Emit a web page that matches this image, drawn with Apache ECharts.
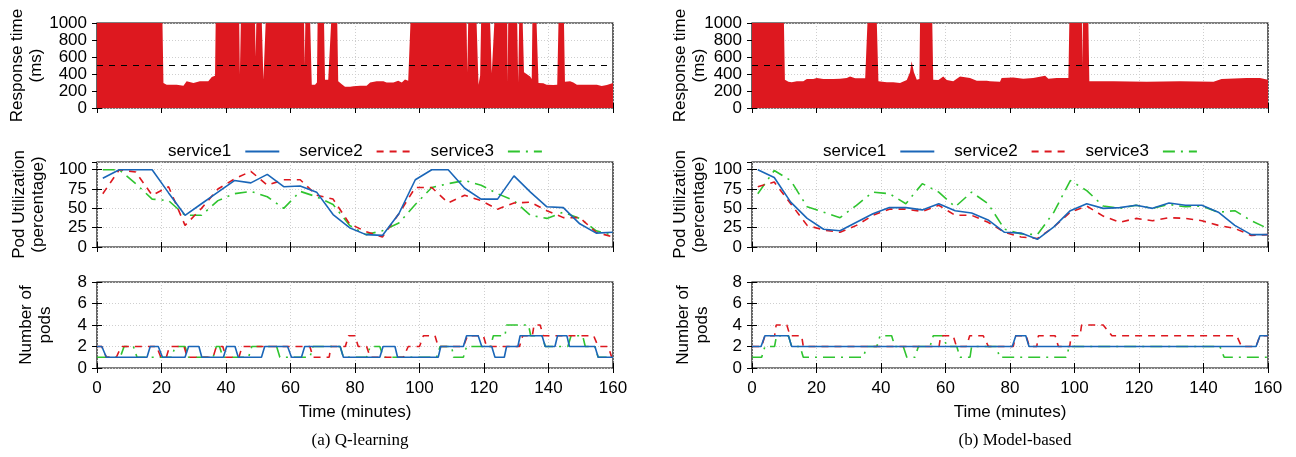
<!DOCTYPE html>
<html><head><meta charset="utf-8">
<script src="https://cdn.jsdelivr.net/npm/echarts@6/dist/echarts.min.js"></script>
<style>html,body{margin:0;padding:0;background:#fff}#c{width:1296px;height:457px}</style>
</head><body><div id="c"></div>
<script>
// ---------------- DATA ----------------
const xTickValues = [0,20,40,60,80,100,120,140,160];
const seriesNames = ['service1','service2','service3'];
const captions = ['(a) Q-learning','(b) Model-based'];
const slaThreshold = 500;

// response time [minute, ms] (values >= 1000 are off-scale spikes)
const respQ = [[0,1000],[20.3,1000],[20.6,294],[21.6,275],[22.6,275],[24.7,275],[26.8,263],[27.8,314],[29.9,294],[31.9,314],[34.5,314],[35.6,365],[36.6,380],[36.8,1000],[44.1,1000],[44.3,400],[44.6,1000],[49,1000],[49.2,600],[49.4,1000],[51.1,1000],[51.6,333],[52.1,333],[52.3,1000],[64.2,1000],[64.4,500],[64.6,1000],[66.1,1000],[66.6,275],[67.6,275],[68.2,300],[68.4,1000],[70.4,1000],[70.7,333],[71.7,333],[72.2,340],[72.6,1000],[74.5,1000],[74.8,314],[75.9,280],[76.9,250],[78.5,250],[79.5,255],[81.6,263],[83.6,263],[84.7,300],[86.7,314],[88.8,314],[89.8,300],[91.9,300],[93.4,320],[94.5,300],[95.5,335],[96.5,320],[97.2,1000],[114.6,1000],[114.8,420],[115.1,1000],[117.7,1000],[118.3,275],[118.8,380],[119.1,1000],[121.9,1000],[122.4,410],[122.9,430],[123.2,1000],[127.2,1000],[127.35,300],[127.5,1000],[130.3,1000],[130.6,300],[130.9,1000],[132,1000],[132.4,420],[133.2,400],[134.3,370],[134.8,340],[135,1000],[136.3,1000],[136.9,294],[138.4,290],[139.4,275],[141.5,270],[142.7,275],[143.1,1000],[144.8,1000],[145.1,310],[146.7,314],[147.7,300],[148.8,275],[151.9,275],[155,275],[156.5,260],[158.1,270],[160,294]];
const respM = [[0,1000],[9.9,1000],[10.2,333],[11.3,310],[12.3,302],[13.9,314],[15.9,314],[17,341],[19,341],[20.1,353],[22.1,341],[25.2,341],[27.3,345],[29.4,353],[30.4,372],[32,349],[35.1,349],[35.4,372],[35.8,1000],[38.7,1000],[39.2,314],[41.8,302],[43.8,302],[45.9,294],[48,330],[49,420],[49.5,549],[50.2,420],[51.1,333],[51.9,340],[52.1,1000],[55.9,1000],[56.2,333],[57.8,330],[59.3,372],[60.4,330],[62.4,314],[64.5,372],[67.6,353],[69.7,322],[72.8,322],[73.8,314],[76.9,310],[77.4,353],[81,360],[84.1,345],[87.2,353],[90.9,380],[91.9,345],[94.5,353],[98.1,353],[98.4,1000],[102.3,1000],[102.45,500],[102.6,1000],[104.3,1000],[104.6,314],[112,314],[122.4,310],[132.7,314],[143.1,310],[145.6,341],[153.4,353],[157.5,353],[160,333]];

// pod utilization (%), sampled at these minutes
const utilTimes = [1.8,6.9,12,17.1,22.2,27.3,32.4,37.5,42.6,47.7,52.8,57.9,63,68.1,73.2,78.3,83.4,88.5,93.6,98.7,103.8,108.9,114,119.1,124.2,129.3,134.4,139.5,144.6,149.7,154.8,159.9];
const utilQ1 = [89,100,100,100,70,41,56,71,86,83,94,78,79,71,42,25,16,15,43,87,100,100,76,62,62,92,71,52,51,30,18,19];
const utilQ2 = [69,100,97,67,78,28,50,75,88,98,80,87,87,67,62,30,20,13,43,77,77,57,67,60,49,57,58,47,38,38,19,13];
const utilQ3 = [100,100,82,62,60,41,41,60,69,72,65,50,72,65,55,28,16,21,31,55,77,82,86,80,69,60,41,37,45,37,21,15];
const utilM1 = [100,90,58,37,23,21,32,43,51,51,48,56,47,44,35,19,18,10,26,47,56,50,51,54,50,57,54,54,45,28,16,16];
const utilM2 = [78,84,56,28,22,19,28,41,49,49,46,54,41,41,32,19,13,11,26,45,53,40,32,37,34,38,37,34,28,24,15,16];
const utilM3 = [69,99,86,52,45,38,54,71,69,56,82,71,52,71,56,23,17,16,45,86,73,53,50,54,50,55,52,53,45,47,34,24];

// number of pods [minute, pods]
const podsQ1 = [[0,2],[1.5,2],[2.9,1],[15.5,1],[16.5,2],[19,2],[20.3,1],[27.3,1],[28.4,2],[31.6,2],[32.5,1],[39.2,1],[40.2,2],[42.8,2],[43.8,1],[51,1],[52,2],[59.1,2],[60.3,1],[63.4,1],[64.4,2],[75.4,2],[76.4,1],[87.7,1],[88.7,2],[92.4,2],[93.2,1],[105.8,1],[106.6,2],[113.6,2],[114.6,3],[118.2,3],[119.3,2],[122.4,2],[123.4,1],[126.3,1],[127,2],[130.5,2],[131.2,3],[138,3],[139,2],[142,2],[142.8,3],[145.7,3],[146.5,2],[154.4,2],[155.4,1],[159.1,1],[160,1]];
const podsQ2 = [[0,2],[1.5,2],[2.9,1],[6,1],[7.5,2],[18.5,2],[19.8,1],[21.5,1],[22.5,2],[27,2],[28,1],[36,1],[37,2],[39,2],[40,1],[44,1],[45,2],[66,2],[67,1],[72,1],[72.5,2],[77,2],[78,3],[80,3],[81,2],[83.6,2],[84.7,1],[95,1],[96.5,2],[100,2],[101.2,3],[104.8,3],[105.8,2],[113.6,2],[114.9,3],[119.8,3],[120.8,2],[131,2],[132,3],[135,3],[135.5,4],[137.4,4],[138.4,3],[154,3],[155.4,2],[158.5,2],[159.6,1],[160,1]];
const podsQ3 = [[0,1],[7.2,1],[8.4,2],[11.3,2],[12.4,1],[23.2,1],[24.2,2],[27.3,2],[28.4,1],[36,1],[37,2],[38,2],[39,1],[47,1],[48,2],[55.7,2],[56.7,1],[66,1],[67,2],[75.4,2],[76.4,1],[83.6,1],[84.7,2],[87.7,2],[88.8,1],[105.3,1],[106.4,2],[110,2],[110.5,1],[113.6,1],[114.6,2],[122,2],[122.9,3],[126.5,3],[127,4],[133.8,4],[134.5,3],[138,3],[139,2],[146,2],[147,3],[150.6,3],[151.4,2],[154.4,2],[155.4,1],[160,1]];
const podsM1 = [[0,2],[2.8,2],[4,3],[11.3,3],[12.3,2],[80.7,2],[81.8,3],[84.9,3],[85.9,2],[156.3,2],[157.5,3],[160,3]];
const podsM2 = [[0,2],[3,2],[4,3],[7,3],[7.5,4],[10.8,4],[11.8,3],[15.4,3],[15.9,2],[58,2],[58.5,3],[62.4,3],[63.4,2],[66.5,2],[67.5,3],[71.7,3],[73.3,2],[81,2],[81.8,3],[85,3],[86,2],[88.3,2],[88.8,3],[94,3],[95,2],[98.5,2],[99,3],[101.7,3],[102.2,4],[108.9,4],[111.6,3],[150.3,3],[151.8,2],[156.3,2],[157.5,3],[160,3]];
const podsM3 = [[0,1],[3,1],[4,2],[7,2],[7.6,3],[11.3,3],[12.3,2],[14.9,2],[15.9,1],[34.5,1],[35.6,2],[38.7,2],[39.7,3],[43.3,3],[44.3,2],[46.9,2],[48,1],[50.5,1],[51.6,2],[55.2,2],[56.2,3],[59.3,3],[60.4,2],[63.5,2],[64.5,1],[67.6,1],[68.1,2],[75.9,2],[76.7,1],[97.4,1],[98.4,2],[145.1,2],[146.4,1],[160,1]];

// ---------------- CHART ----------------
const FONT = 'Liberation Sans';
const colors = ['#1a66b8','#dd181f','#2fc42f'];
const dashes = ['solid',[7,6],[12,6,2,6]];
const cols = [{left:97,width:516,gaps:[51,49,42]},{left:752,width:516,gaps:[43,43,40]}];
const rows = [
  {top:23,height:85,min:0,max:1000,interval:200,name:'Response time\n(ms)'},
  {top:162,height:85,min:0,max:110,interval:25,name:'Pod Utilization\n(percentage)'},
  {top:282,height:86,min:0,max:8,interval:2,name:'Number of\npods'}
];
const grids=[],xAxes=[],yAxes=[],series=[];
const tickStyle={inside:true,length:5,lineStyle:{color:'#000',width:1}};
const splitStyle={show:true,lineStyle:{color:'#cfcfcf',type:[1,2],width:1}};
cols.forEach((c,ci)=>{
  rows.forEach((r,ri)=>{
    const gi=grids.length;
    grids.push({left:c.left,width:c.width,top:r.top,height:r.height,show:true,borderColor:'#000',borderWidth:1.2,backgroundColor:'transparent'});
    xAxes.push({type:'value',gridIndex:gi,min:0,max:160,interval:20,axisLine:{show:false},axisTick:tickStyle,
      axisLabel:{show:ri===2,fontFamily:FONT,fontSize:17,color:'#000',margin:12},
      splitLine:splitStyle,
      name:ri===2?'Time (minutes)':'',nameLocation:'middle',nameGap:36,nameTextStyle:{fontFamily:FONT,fontSize:17,color:'#000'}});
    xAxes.push({type:'value',gridIndex:gi,position:'top',min:0,max:160,interval:20,axisLine:{show:false},axisTick:tickStyle,axisLabel:{show:false},splitLine:{show:false}});
    yAxes.push({type:'value',gridIndex:gi,min:r.min,max:r.max,interval:r.interval,axisLine:{show:false},axisTick:tickStyle,
      axisLabel:{fontFamily:FONT,fontSize:17,color:'#000',margin:10,showMaxLabel:ri!==1,formatter:v=>String(v)},
      splitLine:splitStyle,
      name:r.name,nameLocation:'middle',nameRotate:90,nameGap:c.gaps[ri],nameMoveOverlap:false,
      nameTextStyle:{fontFamily:FONT,fontSize:17,color:'#000',lineHeight:19,align:'center'}});
    yAxes.push({type:'value',gridIndex:gi,position:'right',min:r.min,max:r.max,interval:r.interval,axisLine:{show:false},axisTick:tickStyle,axisLabel:{show:false},splitLine:{show:false}});
  });
});
function ax(gi){return {xAxisIndex:2*gi,yAxisIndex:2*gi};}
// response
[respQ,respM].forEach((d,ci)=>{
  const gi=ci*3;
  series.push(Object.assign({type:'line',data:d,symbol:'none',silent:true,
    lineStyle:{width:0},areaStyle:{color:'#dd181f',opacity:1,origin:'start'},
    markLine:{silent:true,symbol:'none',label:{show:false},lineStyle:{color:'#000',type:[6,6],width:1.2},data:[{yAxis:slaThreshold}]},
    z:2},ax(gi)));
});
// utilization
[[utilQ1,utilQ2,utilQ3],[utilM1,utilM2,utilM3]].forEach((set,ci)=>{
  const gi=ci*3+1;
  set.forEach((vals,si)=>{
    series.push(Object.assign({type:'line',name:seriesNames[si],symbol:'none',silent:true,
      data:utilTimes.map((t,k)=>[t,vals[k]]),
      lineStyle:{color:colors[si],width:1.6,type:dashes[si]},itemStyle:{color:colors[si]},z:5-si},ax(gi)));
  });
});
// pods
[[podsQ1,podsQ2,podsQ3],[podsM1,podsM2,podsM3]].forEach((set,ci)=>{
  const gi=ci*3+2;
  set.forEach((d,si)=>{
    series.push(Object.assign({type:'line',name:seriesNames[si],symbol:'none',silent:true,data:d,
      lineStyle:{color:colors[si],width:1.6,type:dashes[si]},itemStyle:{color:colors[si]},z:5-si},ax(gi)));
  });
});
const legendBase={data:seriesNames,top:138,align:'right',itemWidth:34,itemHeight:14,itemGap:19,selectedMode:false,
  itemStyle:{opacity:0,borderWidth:0},
  textStyle:{fontFamily:FONT,fontSize:17,color:'#000',padding:[0,9,0,0]}};
const chart=echarts.init(document.getElementById('c'),null,{renderer:'canvas'});
chart.setOption({
  animation:false,
  backgroundColor:'#fff',
  grid:grids,xAxis:xAxes,yAxis:yAxes,series:series,
  legend:[Object.assign({left:163},legendBase),Object.assign({left:818},legendBase)],
  title:[
    {text:captions[0],left:355,top:427,textAlign:'center',textStyle:{fontFamily:'Liberation Serif',fontSize:17,fontWeight:'normal',color:'#000'}},
    {text:captions[1],left:1010,top:427,textAlign:'center',textStyle:{fontFamily:'Liberation Serif',fontSize:17,fontWeight:'normal',color:'#000'}}
  ]
});
</script></body></html>
